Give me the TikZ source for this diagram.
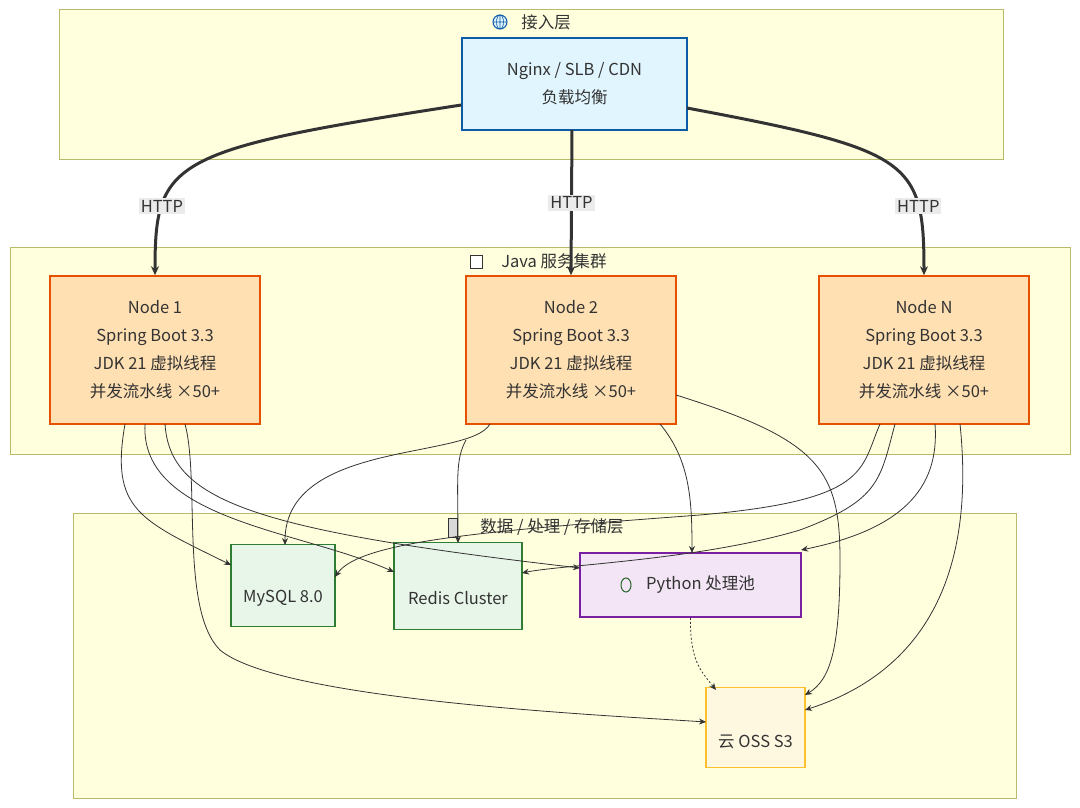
\documentclass[tikz,border=0pt]{standalone}
\usepackage{fontspec}
\setmainfont{Noto Sans CJK SC}
\usetikzlibrary{shapes.geometric,arrows.meta}
\definecolor{layerfill}{HTML}{FFFFDE}
\definecolor{layerdraw}{HTML}{B8BC6A}
\definecolor{lbfill}{HTML}{E1F5FE}
\definecolor{lbdraw}{HTML}{0D5AA7}
\definecolor{jfill}{HTML}{FFE0B2}
\definecolor{jdraw}{HTML}{E65100}
\definecolor{dbfill}{HTML}{E8F5E9}
\definecolor{dbdraw}{HTML}{2E7D32}
\definecolor{pyfill}{HTML}{F3E5F5}
\definecolor{pydraw}{HTML}{7B1FA2}
\definecolor{ossfill}{HTML}{FFF8E1}
\definecolor{ossdraw}{HTML}{FBC02D}
\definecolor{txt}{HTML}{333333}
\tikzset{
 layer/.style={draw=layerdraw,fill=layerfill,line width=0.8pt},
 box/.style={draw,line width=1.5pt,align=center,font=\fontsize{16.5}{28}\selectfont,text=txt,inner sep=0pt},
 cyl/.style={cylinder,shape border rotate=90,aspect=0.25,draw=dbdraw,fill=dbfill,line width=1.5pt,inner sep=0pt},
 cyltext/.style={font=\fontsize{16.5}{18}\selectfont,text=txt},
 title/.style={font=\fontsize{16.5}{18}\selectfont,text=txt},
 thick/.style={line width=3pt,draw=txt,-{Stealth[length=9pt,width=8pt]}},
 thin/.style={line width=0.8pt,draw=txt,-{Stealth[length=7pt,width=6pt]}},
 lab/.style={fill=black!8,font=\fontsize{16.5}{18}\selectfont,text=txt,inner sep=2pt}
}
\begin{document}
\begin{tikzpicture}[x=1pt,y=-1pt]
\useasboundingbox (0,0) rectangle (1080,808);
\fill[white] (0,0) rectangle (1080,808);
\draw[layer] (59,9) rectangle (1003,159);
\draw[layer] (10,247) rectangle (1070,454);
\draw[layer] (73,513) rectangle (1016,798);
\node[title] (t1) at (546,22) {接入层};
\draw[lbdraw,fill=lbfill,line width=1pt] (500,22) circle (7pt);
\draw[lbdraw,line width=0.6pt] (500,15) -- (500,29) (493,22) -- (507,22) (500,22) ellipse (3.5pt and 7pt);
\node[title] (t2) at (554,261) {\textit{Java} 服务集群};
\draw[txt,fill=white,line width=0.8pt] (470,255) rectangle (482,268);
\node[title] (t3) at (552,527) {数据 / 处理 / 存储层};
\draw[txt,fill=black!15,line width=0.8pt] (448,518) rectangle (457,537);
\node[box,draw=lbdraw,fill=lbfill,minimum width=225pt,minimum height=92pt] (lb) at (574.5,84) {Nginx / SLB / CDN\\负载均衡};
\foreach \n/\x/\l in {n1/155/Node 1,n2/571/Node 2,nn/924/Node N}
 \node[box,draw=jdraw,fill=jfill,minimum width=210pt,minimum height=148pt] (\n) at (\x,350) {\l\\Spring Boot 3.3\\JDK 21 虚拟线程\\并发流水线 ×50+};
\node[cyl,minimum width=104pt,minimum height=82pt] (my) at (283,586) {};
\node[cyltext] (myt) at (283,598) {MySQL 8.0};
\node[cyl,minimum width=128pt,minimum height=87pt] (rd) at (458,586.5) {};
\node[cyltext] (rdt) at (458,598) {Redis Cluster};
\node[box,draw=pydraw,fill=pyfill,minimum width=221pt,minimum height=64pt,line width=1.5pt] (py) at (690.5,585) {\hspace{20pt}Python 处理池};
\draw[dbdraw!80!black,line width=1pt] (626,585) ellipse (5pt and 7pt);
\node[cyl,draw=ossdraw,fill=ossfill,minimum width=99pt,minimum height=80pt] (oss) at (755.5,728) {};
\node[cyltext] (osst) at (755.5,742) {云 OSS S3};
\draw[thick] (lb.west|-0,105) .. controls (170,150) and (155,160) .. node[pos=0.75,lab]{HTTP} (n1.north);
\draw[thick] (572,130) -- node[pos=0.5,lab]{HTTP} (n2.north);
\draw[thick] (687,108) .. controls (910,150) and (924,160) .. node[pos=0.75,lab]{HTTP} (nn.north);
\coordinate (a1) at (125,424); \coordinate (a2) at (145,424); \coordinate (a3) at (165,424); \coordinate (a4) at (185,424);
\draw[thin] (a1) .. controls (110,510) and (140,520) .. (231,565);
\draw[thin] (a2) .. controls (140,520) and (300,530) .. (394,572);
\draw[thin] (a3) .. controls (170,500) and (250,530) .. (580,568);
\draw[thin] (a4) .. controls (200,480) and (180,610) .. (220,650) .. controls (280,700) and (600,715) .. (706,722);
\draw[thin] (490,424) .. controls (470,460) and (285,440) .. (285,545);
\draw[thin] (466,440) .. controls (455,460) and (458,480) .. (458,543);
\draw[thin] (660,424) .. controls (690,460) and (692,500) .. (692,553);
\draw[thin] (676,395) .. controls (820,440) and (840,470) .. (840,560) .. controls (840,650) and (830,680) .. (805,695);
\draw[thin] (880,424) .. controls (860,470) and (870,500) .. (700,515) .. controls (500,530) and (360,540) .. (335,577);
\draw[thin] (895,424) .. controls (880,480) and (880,500) .. (800,530) .. controls (700,560) and (560,565) .. (522,573);
\draw[thin] (935,424) .. controls (940,490) and (900,530) .. (801,550);
\draw[thin] (960,424) .. controls (970,520) and (960,660) .. (805,710);
\draw[thin,dashed,dash pattern=on 2pt off 2pt] (py.south) .. controls (690,660) and (700,670) .. (716,690);
\end{tikzpicture}
\end{document}
